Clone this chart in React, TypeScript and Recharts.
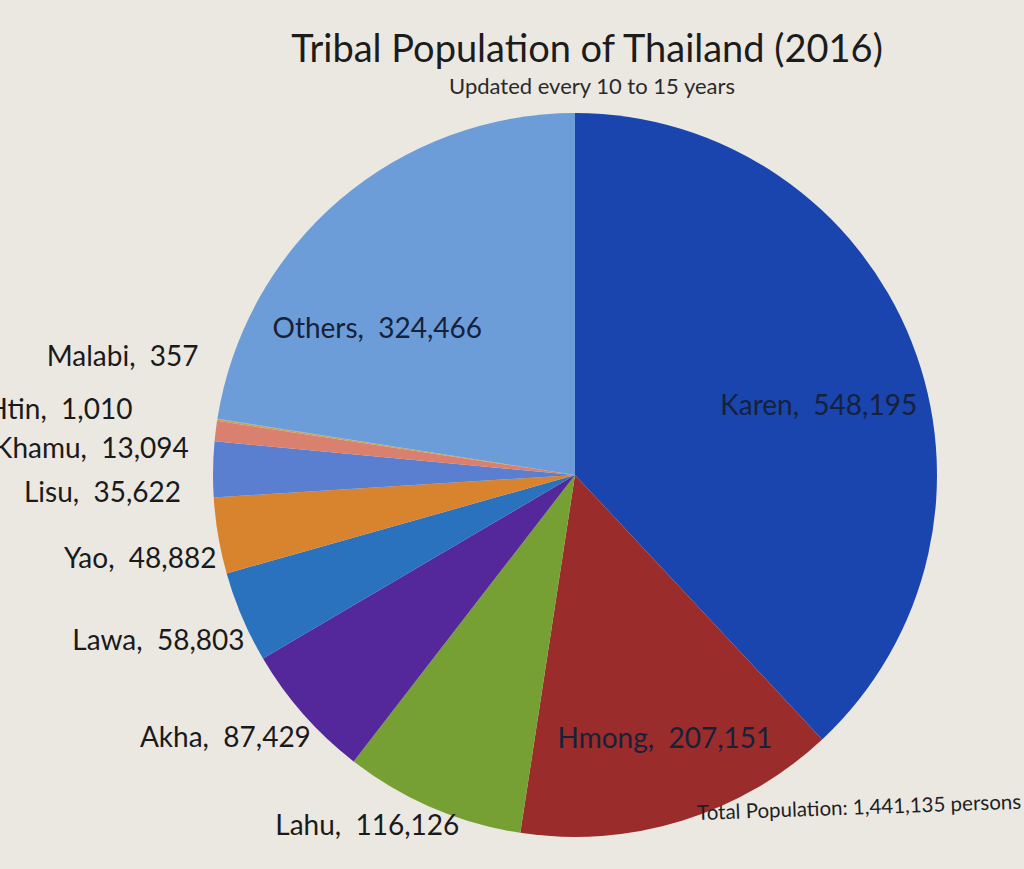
import React from 'react';
import { PieChart, Pie, Cell } from 'recharts';

// Tribal population of Thailand, 2016 (slices clockwise from 12 o'clock)
const tribes = ['Karen', 'Hmong', 'Lahu', 'Akha', 'Lawa', 'Yao', 'Lisu', 'Khamu', 'Htin', 'Malabi', 'Others'];
const population = [548195, 207151, 116126, 87429, 58803, 48882, 35622, 13094, 1010, 357, 324466];
const sliceColors = [
  '#1a45ae', '#9a2c2b', '#76a033', '#54289a', '#2a72bd', '#d8842f',
  '#5a7ed0', '#d9806f', '#c9a04a', '#8a9fc0', '#6c9dd8',
];

const data = tribes.map((name, i) => ({ name, value: population[i] }));

// where each label sits: inside the slice or outside, plus a small nudge
const labelPlacement: Record<string, { inside: boolean; dx: number; dy: number; anchor: 'start' | 'middle' | 'end' }> = {
  Karen:  { inside: true,  dx: 8,   dy: 22,  anchor: 'middle' },
  Hmong:  { inside: true,  dx: 15,  dy: 20,  anchor: 'middle' },
  Others: { inside: true,  dx: -33, dy: 45,  anchor: 'middle' },
  Lahu:   { inside: false, dx: -58, dy: 0,   anchor: 'middle' },
  Akha:   { inside: false, dx: 21,  dy: 10,  anchor: 'end' },
  Lawa:   { inside: false, dx: 19,  dy: 15,  anchor: 'end' },
  Yao:    { inside: false, dx: 16,  dy: 18,  anchor: 'end' },
  Lisu:   { inside: false, dx: -14, dy: 22,  anchor: 'end' },
  Khamu:  { inside: false, dx: -9,  dy: 18,  anchor: 'end' },
  Htin:   { inside: false, dx: -67, dy: -9,  anchor: 'end' },
  Malabi: { inside: false, dx: -1,  dy: -61, anchor: 'end' },
};

const RADIAN = Math.PI / 180;
const FONT = 'Lato, "Open Sans", sans-serif';

const renderLabel = (props: any) => {
  const { cx, cy, midAngle, outerRadius, name, value } = props;
  const place = labelPlacement[name];
  const r = place.inside ? outerRadius * 0.7 : outerRadius + 18;
  const x = cx + r * Math.cos(-midAngle * RADIAN) + place.dx;
  const y = cy + r * Math.sin(-midAngle * RADIAN) + place.dy;
  return (
    <text
      x={x}
      y={y}
      textAnchor={place.anchor}
      dominantBaseline="central"
      fill={place.inside ? '#16213a' : '#1a1a1a'}
      fontFamily={FONT}
      fontSize={28}
    >
      {`${name},\u00a0\u00a0${value.toLocaleString('en-US')}`}
    </text>
  );
};

export default function App() {
  return (
    <div
      style={{
        position: 'absolute', left: 0, top: 0, width: 1024, height: 869,
        background: '#ebe8e2', overflow: 'hidden', fontFamily: FONT,
      }}
    >
      <div style={{ position: 'absolute', left: 0, width: 1174, top: 24, textAlign: 'center', fontSize: 38, color: '#1c1c1c' }}>
        Tribal Population of Thailand (2016)
      </div>
      <div style={{ position: 'absolute', left: 0, width: 1184, top: 72, textAlign: 'center', fontSize: 22, color: '#2a2a2a' }}>
        Updated every 10 to 15 years
      </div>
      <PieChart width={1024} height={869} style={{ position: 'absolute', left: 0, top: 0 }}>
        <Pie
          data={data}
          dataKey="value"
          nameKey="name"
          cx={570}
          cy={470}
          outerRadius={362}
          startAngle={90}
          endAngle={-270}
          stroke="none"
          labelLine={false}
          label={renderLabel}
          isAnimationActive={false}
        >
          {data.map((d, i) => (
            <Cell key={d.name} fill={sliceColors[i]} />
          ))}
        </Pie>
      </PieChart>
      <div
        style={{
          position: 'absolute', left: 697, top: 800, fontSize: 20.5, color: '#1f1f1f',
          whiteSpace: 'nowrap', transform: 'rotate(-2deg)', transformOrigin: 'left center',
        }}
      >
        Total Population: 1,441,135 persons
      </div>
    </div>
  );
}
